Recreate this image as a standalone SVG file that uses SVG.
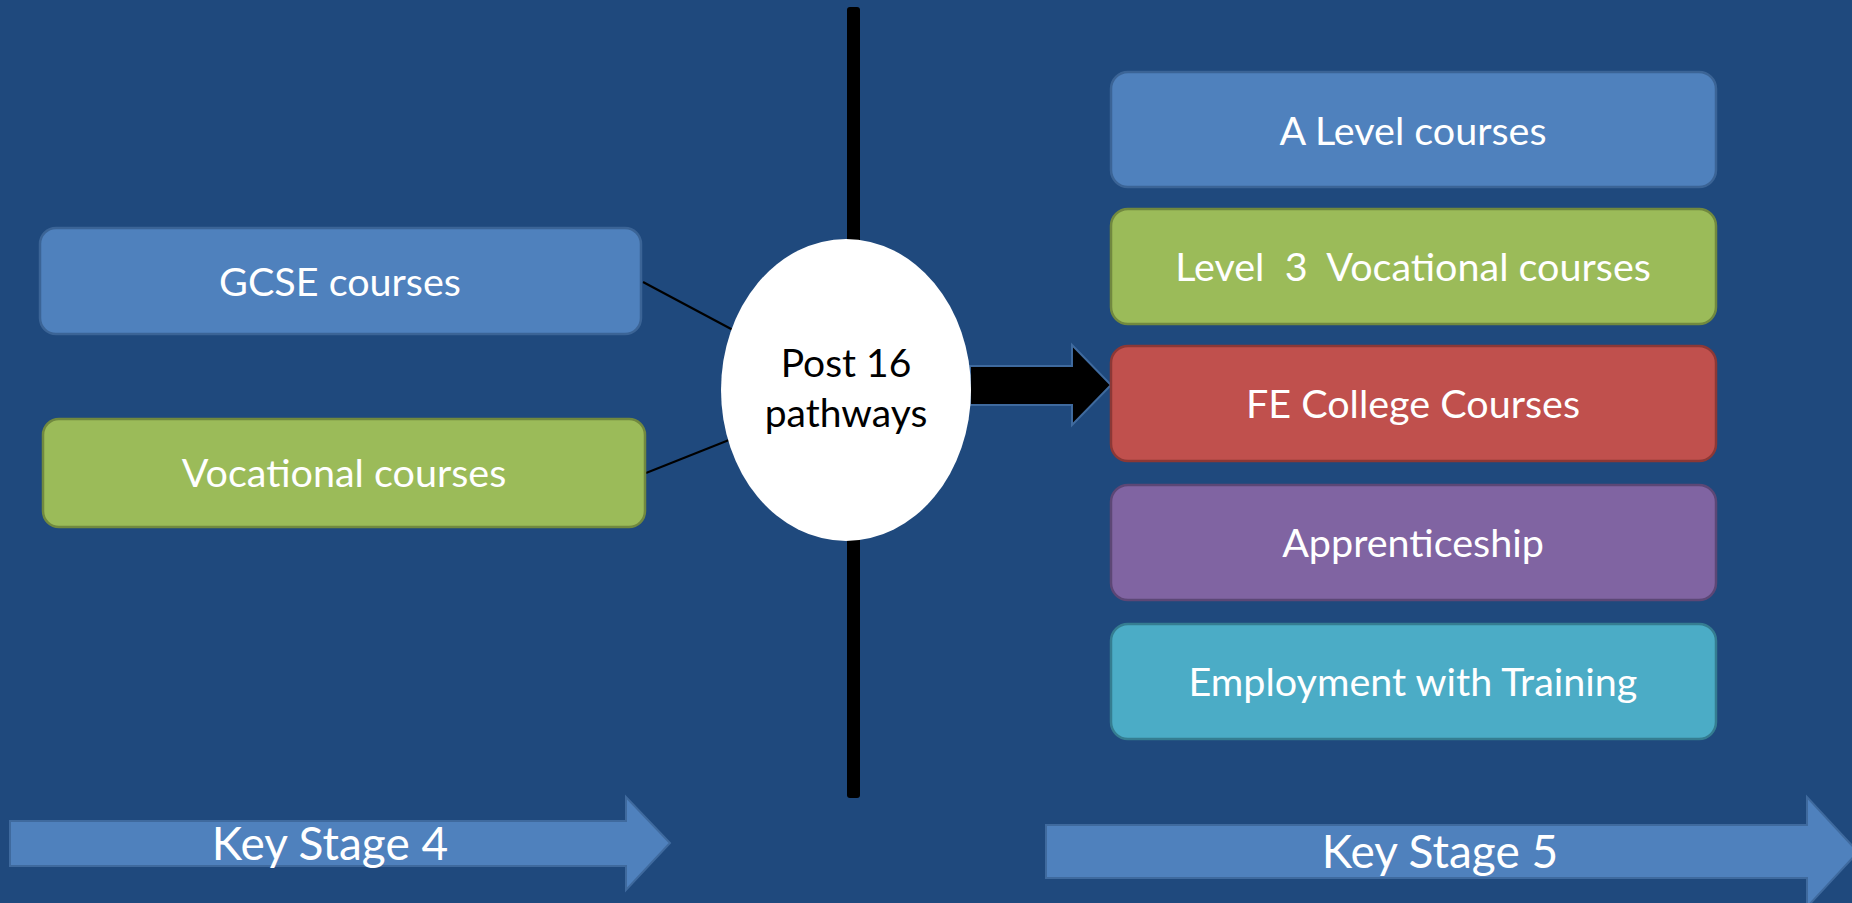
<svg xmlns="http://www.w3.org/2000/svg" width="1852" height="903" viewBox="0 0 1852 903">
<style>
.box{stroke-width:2.5}
.blue{fill:#4F81BD;stroke:#3B6496}
.green{fill:#9BBB59;stroke:#71893F}
.red{fill:#C0504D;stroke:#8C3836}
.purple{fill:#8064A2;stroke:#5C4776}
.teal{fill:#4BACC6;stroke:#357D91}
.lbl{font-family:Lato,"Liberation Sans",sans-serif;font-size:39.5px;fill:#FFFFFF;text-anchor:middle;white-space:pre}
.ks{font-family:Lato,"Liberation Sans",sans-serif;font-size:46px;fill:#FFFFFF;text-anchor:middle}
.hub{font-family:Lato,"Liberation Sans",sans-serif;font-size:39px;fill:#000000;text-anchor:middle}
.stage{fill:#4F81BD;stroke:#3F6A9E;stroke-width:2}
.conn{stroke:#000000;stroke-width:2;fill:none}
</style>
<rect x="0" y="0" width="1852" height="903" fill="#1F497D"/>
<g id="divider">
<rect x="847" y="7" width="13" height="791" rx="3" fill="#000000"/>
</g>
<g id="connectors">
<line class="conn" x1="643" y1="282" x2="733" y2="330"/>
<line class="conn" x1="646" y1="473" x2="729" y2="440"/>
<polygon points="970,366 1072,366 1072,345 1111,385 1072,425 1072,405 970,405" fill="#000000" stroke="#3F6A9E" stroke-width="2"/>
</g>
<g id="hub">
<ellipse cx="846" cy="390" rx="125" ry="151" fill="#FFFFFF"/>
<text class="hub" x="846" y="377">Post 16</text>
<text class="hub" x="846" y="427">pathways</text>
</g>
<g id="gcse">
<rect class="box blue" x="40" y="228" width="601" height="106" rx="16"/>
<text class="lbl" x="340" y="296">GCSE courses</text>
</g>
<g id="vocational">
<rect class="box green" x="43" y="419" width="602" height="108" rx="16"/>
<text class="lbl" x="344" y="487">Vocational courses</text>
</g>
<g id="alevel">
<rect class="box blue" x="1111" y="72" width="605" height="115" rx="17"/>
<text class="lbl" x="1413" y="145">A Level courses</text>
</g>
<g id="level3">
<rect class="box green" x="1111" y="209" width="605" height="115" rx="17"/>
<text class="lbl" x="1413" y="281">Level  3  Vocational courses</text>
</g>
<g id="fe">
<rect class="box red" x="1111" y="346" width="605" height="115" rx="17"/>
<text class="lbl" x="1413" y="418">FE College Courses</text>
</g>
<g id="apprenticeship">
<rect class="box purple" x="1111" y="485" width="605" height="115" rx="17"/>
<text class="lbl" x="1413" y="557">Apprenticeship</text>
</g>
<g id="employment">
<rect class="box teal" x="1111" y="624" width="605" height="115" rx="17"/>
<text class="lbl" x="1413" y="696">Employment with Training</text>
</g>
<g id="ks4">
<polygon class="stage" points="10,821 626,821 626,797 670,843 626,890 626,866 10,866"/>
<text class="ks" x="330" y="860">Key Stage 4</text>
</g>
<g id="ks5">
<polygon class="stage" points="1046,825 1807,825 1807,797 1858,852 1807,907 1807,878 1046,878"/>
<text class="ks" x="1440" y="868">Key Stage 5</text>
</g>
</svg>
